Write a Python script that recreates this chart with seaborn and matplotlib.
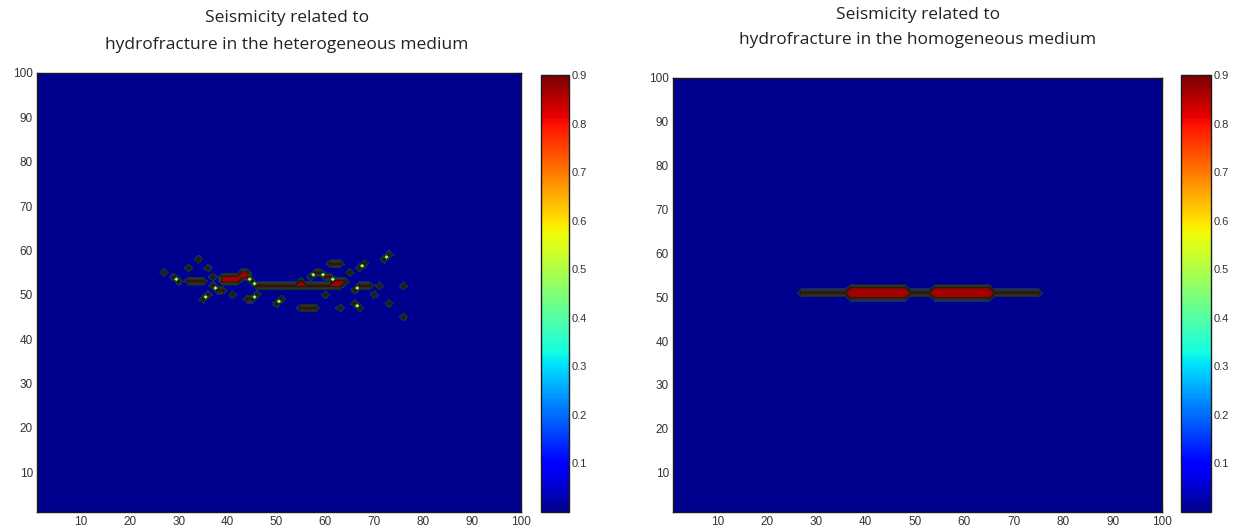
import numpy as np
import matplotlib
matplotlib.use("Agg")
import matplotlib.pyplot as plt
import seaborn as sns
from matplotlib.colors import Normalize, ListedColormap
from matplotlib.cm import ScalarMappable

sns.set_theme(style="white")
plt.rcParams['font.family'] = ['Liberation Sans', 'DejaVu Sans']

# ---------------- data ----------------
grid_n = 100
tick_vals = [10, 20, 30, 40, 50, 60, 70, 80, 90, 100]
cbar_ticks = [0.1, 0.2, 0.3, 0.4, 0.5, 0.6, 0.7, 0.8, 0.9]
contour_levels = [0.0, 0.1, 0.2, 0.3, 0.4, 0.5, 0.6, 0.7, 0.8, 0.95]

# heterogeneous medium: seismic segments (x start, x end, row y, value)
het_x0 = [34, 27, 29, 32, 36, 37, 35, 36, 41, 46, 50, 51, 60, 63, 66, 67, 70, 73, 76, 76,
          65, 66, 67, 68, 72, 73, 71, 32, 39, 39, 43, 43, 46, 55, 67, 58, 61, 37, 38, 45,
          44, 49, 53, 55, 59, 62, 63, 60, 57, 30, 39, 45]
het_x1 = [34, 27, 29, 32, 36, 37, 35, 36, 41, 46, 50, 51, 60, 63, 66, 67, 70, 73, 76, 76,
          65, 66, 67, 68, 72, 73, 71, 35, 42, 42, 44, 44, 63, 58, 69, 59, 63, 37, 38, 45,
          44, 49, 53, 55, 59, 62, 64, 61, 57, 30, 39, 45]
het_y = [58, 55, 54, 56, 56, 54, 49, 50, 50, 50, 48, 49, 50, 47, 48, 47, 50, 48, 52, 45,
         55, 51, 56, 57, 58, 59, 52, 53, 54, 53, 55, 54, 52, 47, 52, 55, 57, 52, 51, 53,
         49, 52, 52, 53, 52, 53, 53, 54, 54, 53, 51, 49]
het_v = [0.9] * 52

# homogeneous medium: fracture line and two high-activity lenses
hom_x0 = [27, 37, 37, 37, 54, 54, 54]
hom_x1 = [75, 48, 48, 48, 65, 65, 65]
hom_y = [51, 50, 51, 52, 50, 51, 52]
hom_v = [0.9, 0.9, 0.9, 0.9, 0.9, 0.9, 0.9]

titles = ["Seismicity related to\nhydrofracture in the heterogeneous medium",
          "Seismicity related to\nhydrofracture in the homogeneous medium"]


def build_grid(x0s, x1s, ys, vs):
    z = np.zeros((grid_n, grid_n))
    for a, b, r, v in zip(x0s, x1s, ys, vs):
        z[r - 1, a - 1:b] = np.maximum(z[r - 1, a - 1:b], v)
    return z


jet = matplotlib.colormaps['jet']
cmap = ListedColormap(jet(np.linspace(0.014, 1.0, 256)))
norm = Normalize(0, 0.9)
mids = [(contour_levels[i] + contour_levels[i + 1]) / 2 for i in range(len(contour_levels) - 1)]
fill_colors = ['#00008F'] + [cmap(norm(min(m, 0.87))) for m in mids[1:]]

fig = plt.figure(figsize=(12.38, 5.31), dpi=100)
W, H = 1238.0, 531.0

panels = [
    dict(ax=(37, 73, 521, 512), cax=(541, 75, 569, 512), z=build_grid(het_x0, het_x1, het_y, het_v),
         title_y=[18, 45], tx=287),
    dict(ax=(673, 78, 1162, 512), cax=(1181, 75, 1211, 512), z=build_grid(hom_x0, hom_x1, hom_y, hom_v),
         title_y=[15, 40], tx=918),
]

xs = np.arange(1, grid_n + 1)
X, Y = np.meshgrid(xs, xs)

for p, title in zip(panels, titles):
    l, t, r, b = p['ax']
    ax = fig.add_axes([l / W, 1 - b / H, (r - l) / W, (b - t) / H])
    ax.set_facecolor('#00008F')
    ax.contourf(X, Y, p['z'], levels=contour_levels, colors=fill_colors)
    ax.contour(X, Y, p['z'], levels=contour_levels[1:-1], colors='k', linewidths=0.5)
    ax.set_xlim(1, 100)
    ax.set_ylim(1, 100)
    ax.set_xticks(tick_vals)
    ax.set_yticks(tick_vals)
    ax.tick_params(direction='in', length=4, width=0.8, colors='k', labelsize=8.5,
                   top=True, right=True, bottom=True, left=True, pad=3)
    for lab in ax.get_xticklabels() + ax.get_yticklabels():
        lab.set_color('#333333')
    for s in ax.spines.values():
        s.set_color('k')
        s.set_linewidth(1.0)

    cl, ct, cr, cb = p['cax']
    cax = fig.add_axes([cl / W, 1 - cb / H, (cr - cl) / W, (cb - ct) / H])
    sm = ScalarMappable(norm=norm, cmap=cmap)
    cbar = fig.colorbar(sm, cax=cax, ticks=cbar_ticks)
    cbar.ax.set_yticklabels([f"{v:.1f}" for v in cbar_ticks])
    cax.tick_params(direction='in', length=4, width=0.8, left=True, right=True,
                    labelsize=8, pad=2, colors='k')
    for lab in cax.get_yticklabels():
        lab.set_color('#333333')
    cbar.outline.set_linewidth(1.0)
    cbar.outline.set_edgecolor('k')

    lines = title.split("\n")
    for txt, yy in zip(lines, p['title_y']):
        fig.text(p['tx'] / W, 1 - yy / H, txt, ha='center', va='center',
                 fontsize=12.5, family=['Open Sans', 'DejaVu Sans'], color='#222222')

fig.savefig("out.png", dpi=100)
